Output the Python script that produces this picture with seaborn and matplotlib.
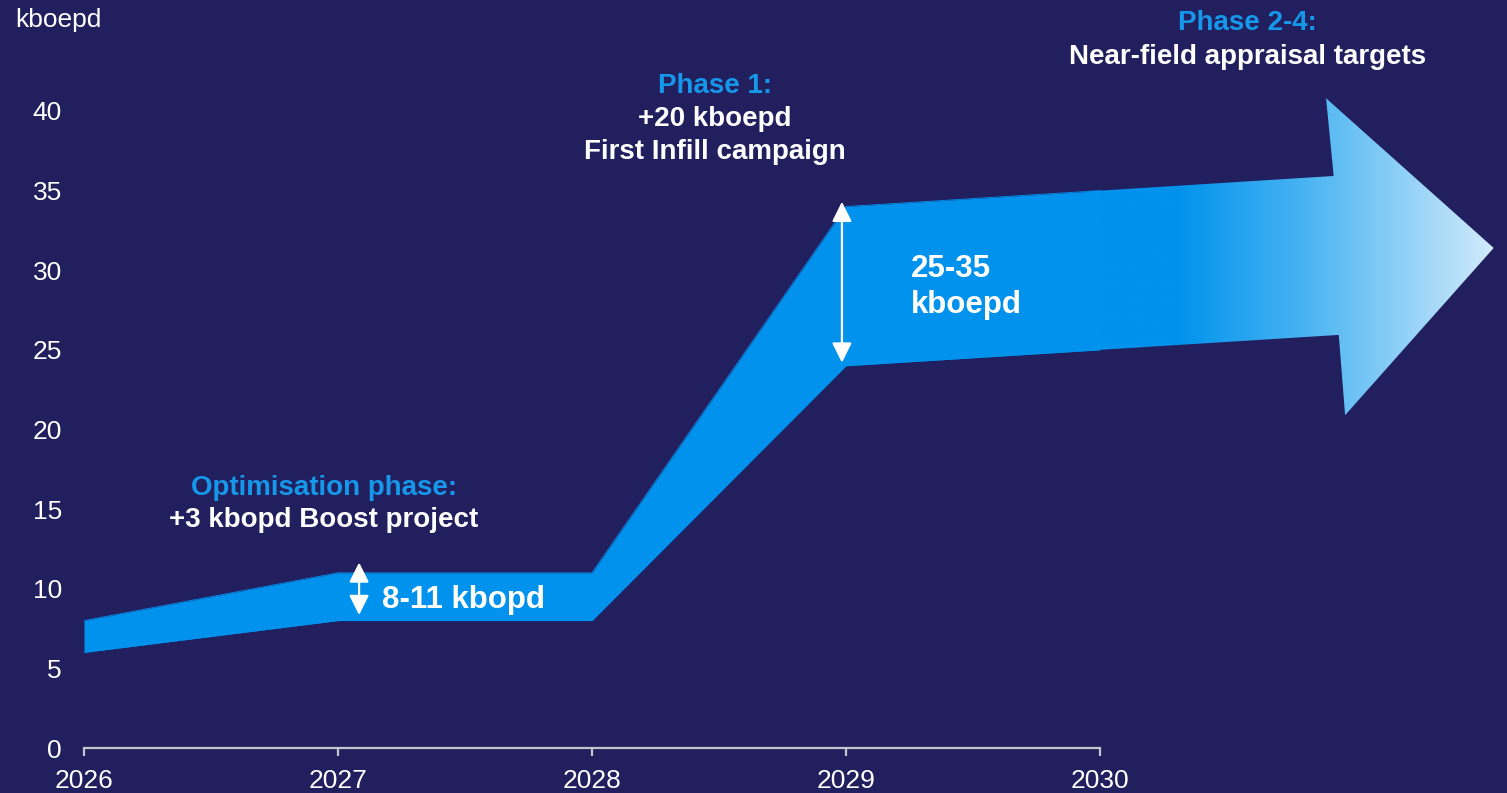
import numpy as np
import matplotlib
matplotlib.use("Agg")
import matplotlib.pyplot as plt
from matplotlib.colors import LinearSegmentedColormap
from matplotlib.patches import Polygon
import seaborn as sns

# Production outlook band (kboepd)
years = [2026, 2027, 2028, 2029, 2030]
low = [6, 8, 8, 24, 25]
high = [8, 11, 11, 34, 35]
y_ticks = [0, 5, 10, 15, 20, 25, 30, 35, 40]
x_ticks = [2026, 2027, 2028, 2029, 2030]

BG = "#221F5E"
BAND = "#0092EC"
ACCENT = "#1597EA"
WHITE = "#FFFFFF"

sns.set_theme(style="white")
plt.rcParams["font.family"] = ["Liberation Sans", "DejaVu Sans"]

fig = plt.figure(figsize=(15.07, 7.93), dpi=100, facecolor=BG)
ax = fig.add_axes([84 / 1507, 45 / 793, (1507 - 84) / 1507, 748 / 793])
ax.set_facecolor(BG)

sns.lineplot(x=years, y=low, ax=ax, color=BAND, linewidth=0.6, zorder=1)
sns.lineplot(x=years, y=high, ax=ax, color=BAND, linewidth=0.6, zorder=1)
ax.fill_between(years, low, high, color=BAND, linewidth=0, zorder=3)

# Arrow continuing the band beyond 2030, with a gradient fill
shaft_end = 2030.92
head_x = 2030.89
tip_x = 2031.55
slope_lo = low[-1] - low[-2]
slope_hi = high[-1] - high[-2]
start = 2029.95
arrow_pts = [
    (start, low[-1] - slope_lo * (2030 - start)),
    (start, high[-1] - slope_hi * (2030 - start)),
    (shaft_end, high[-1] + slope_hi * (shaft_end - 2030)),
    (head_x, 40.8),
    (tip_x, 31.4),
    (2030.965, 20.9),
    (shaft_end + 0.02, low[-1] + slope_lo * (shaft_end + 0.02 - 2030)),
]
poly = Polygon(arrow_pts, closed=True, facecolor="none", edgecolor="none")
ax.add_patch(poly)
grad_cmap = LinearSegmentedColormap.from_list(
    "arrow", [(0.0, BAND), (0.22, BAND), (0.52, "#45B2F2"), (1.0, "#D2EBFB")]
)
grad = np.linspace(0, 1, 512).reshape(1, -1)
im = ax.imshow(grad, cmap=grad_cmap, aspect="auto",
               extent=[start, tip_x, 20.0, 41.5], origin="lower",
               interpolation="bilinear", zorder=2)
im.set_clip_path(poly)

# Range indicators
arrow_kw = dict(arrowstyle="<|-|>,head_length=1.0,head_width=0.5",
                color=WHITE, lw=1.6, shrinkA=0, shrinkB=0)
ax.annotate("", xy=(2027.083, 11.65), xytext=(2027.083, 8.35),
            arrowprops=arrow_kw, zorder=5)
ax.annotate("", xy=(2028.984, 34.3), xytext=(2028.984, 24.2),
            arrowprops=arrow_kw, zorder=5)

# Annotations
bold = dict(fontweight="bold", zorder=6)
ax.text(2026.945, 16.3, "Optimisation phase:", color=ACCENT, fontsize=20,
        ha="center", va="center", **bold)
ax.text(2026.945, 14.3, "+3 kbopd Boost project", color=WHITE, fontsize=20,
        ha="center", va="center", **bold)
ax.text(2027.173, 9.27, "8-11 kbopd", color=WHITE, fontsize=22.5,
        ha="left", va="center", **bold)
ax.text(2028.484, 41.6, "Phase 1:", color=ACCENT, fontsize=20,
        ha="center", va="center", **bold)
ax.text(2028.484, 39.5, "+20 kboepd", color=WHITE, fontsize=20,
        ha="center", va="center", **bold)
ax.text(2028.484, 37.4, "First Infill campaign", color=WHITE, fontsize=20,
        ha="center", va="center", **bold)
ax.text(2029.256, 30.1, "25-35", color=WHITE, fontsize=22.5,
        ha="left", va="center", **bold)
ax.text(2029.256, 27.8, "kboepd", color=WHITE, fontsize=22.5,
        ha="left", va="center", **bold)
ax.text(2030.579, 45.5, "Phase 2-4:", color=ACCENT, fontsize=20,
        ha="center", va="center", **bold)
ax.text(2030.579, 43.4, "Near-field appraisal targets", color=WHITE,
        fontsize=20, ha="center", va="center", **bold)

fig.text(15 / 1507, 1 - 20 / 793, "kboepd", color=WHITE, fontsize=19,
         ha="left", va="center")

# Axes styling
ax.set_xlim(2026, 2026 + (1507 - 84) / 254)
ax.set_ylim(0, 748 / 15.925)
ax.set_xticks(x_ticks)
ax.set_xticklabels([str(v) for v in x_ticks])
ax.set_yticks(y_ticks)
ax.set_yticklabels([str(v) for v in y_ticks])
for side in ("top", "right", "left"):
    ax.spines[side].set_visible(False)
ax.spines["bottom"].set_color("#C4C4CC")
ax.spines["bottom"].set_linewidth(1.6)
ax.spines["bottom"].set_bounds(2026, 2030)
ax.spines["bottom"].set_zorder(4)
ax.tick_params(axis="x", which="both", bottom=True, direction="out",
               length=6, width=1.6, color="#C4C4CC", labelcolor=WHITE,
               labelsize=19, pad=9)
ax.tick_params(axis="y", which="both", left=False, length=0,
               labelcolor=WHITE, labelsize=19, pad=16)
ax.set_xlabel("")
ax.set_ylabel("")
ax.grid(False)

fig.savefig("out.png", dpi=100, facecolor=BG)
